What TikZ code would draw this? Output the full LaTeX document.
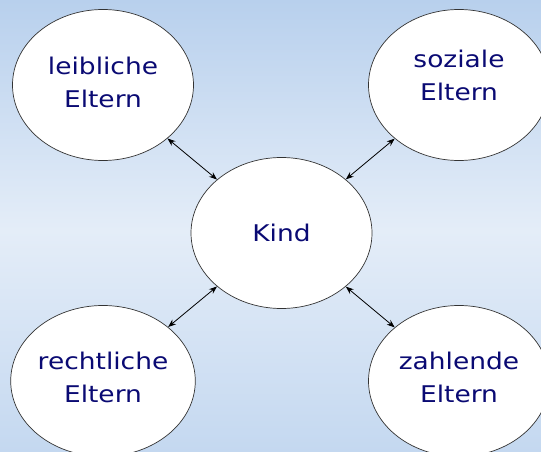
\documentclass[tikz,border=0pt]{standalone}
\usepackage{fontspec}
\newfontfamily\eltfont[FakeStretch=1.15]{DejaVu Sans}
\usepackage{tikz}
\usetikzlibrary{shapes.geometric,positioning,arrows.meta}
\definecolor{bgtop}{RGB}{184,208,237}
\definecolor{bgmid}{RGB}{228,237,248}
\definecolor{bgbot}{RGB}{196,216,240}
\definecolor{txtblue}{RGB}{10,10,115}
% strut that lifts the text inside its ellipse
\newcommand{\lift}[1]{\rule[-#1]{0pt}{#1}}

\begin{document}
\begin{tikzpicture}[x=1pt, y=1pt, <->, >={Stealth[length=8pt,width=6pt]},
  elt/.style={ellipse, draw=black!80, line width=0.7pt, fill=white, minimum width=181pt,
    minimum height=151pt, inner sep=0pt, align=center, text=txtblue,
    font=\eltfont\fontsize{23}{33}\selectfont}]
  % background
  \useasboundingbox (0,0) rectangle (541,-452);
  \clip (0,0) rectangle (541,-452);
  \shade[top color=bgtop, bottom color=bgmid] (0,0) rectangle (541,-230);
  \shade[top color=bgmid, bottom color=bgbot] (0,-230) rectangle (541,-452);

  % child in the middle, parents round it
  \node[elt] (kind) at (281.5,-233) {Kind};
  \node[elt, on grid, above left=148pt and 178.5pt of kind] (leib) {leibliche\\Eltern\lift{6pt}};
  \node[elt, on grid, above right=148pt and 177.5pt of kind] (sozial) {soziale\\Eltern\lift{20pt}};
  \node[elt, on grid, below left=148pt and 178.5pt of kind] (recht) {rechtliche\\Eltern\lift{8pt}};
  \node[elt, on grid, below right=148pt and 177.5pt of kind] (zahl) {zahlende\\Eltern\lift{8pt}};

  \path[black, line width=0.8pt]
    (leib) edge (kind)
    (sozial) edge (kind)
    (recht) edge (kind)
    (zahl) edge (kind);
\end{tikzpicture}
\end{document}
